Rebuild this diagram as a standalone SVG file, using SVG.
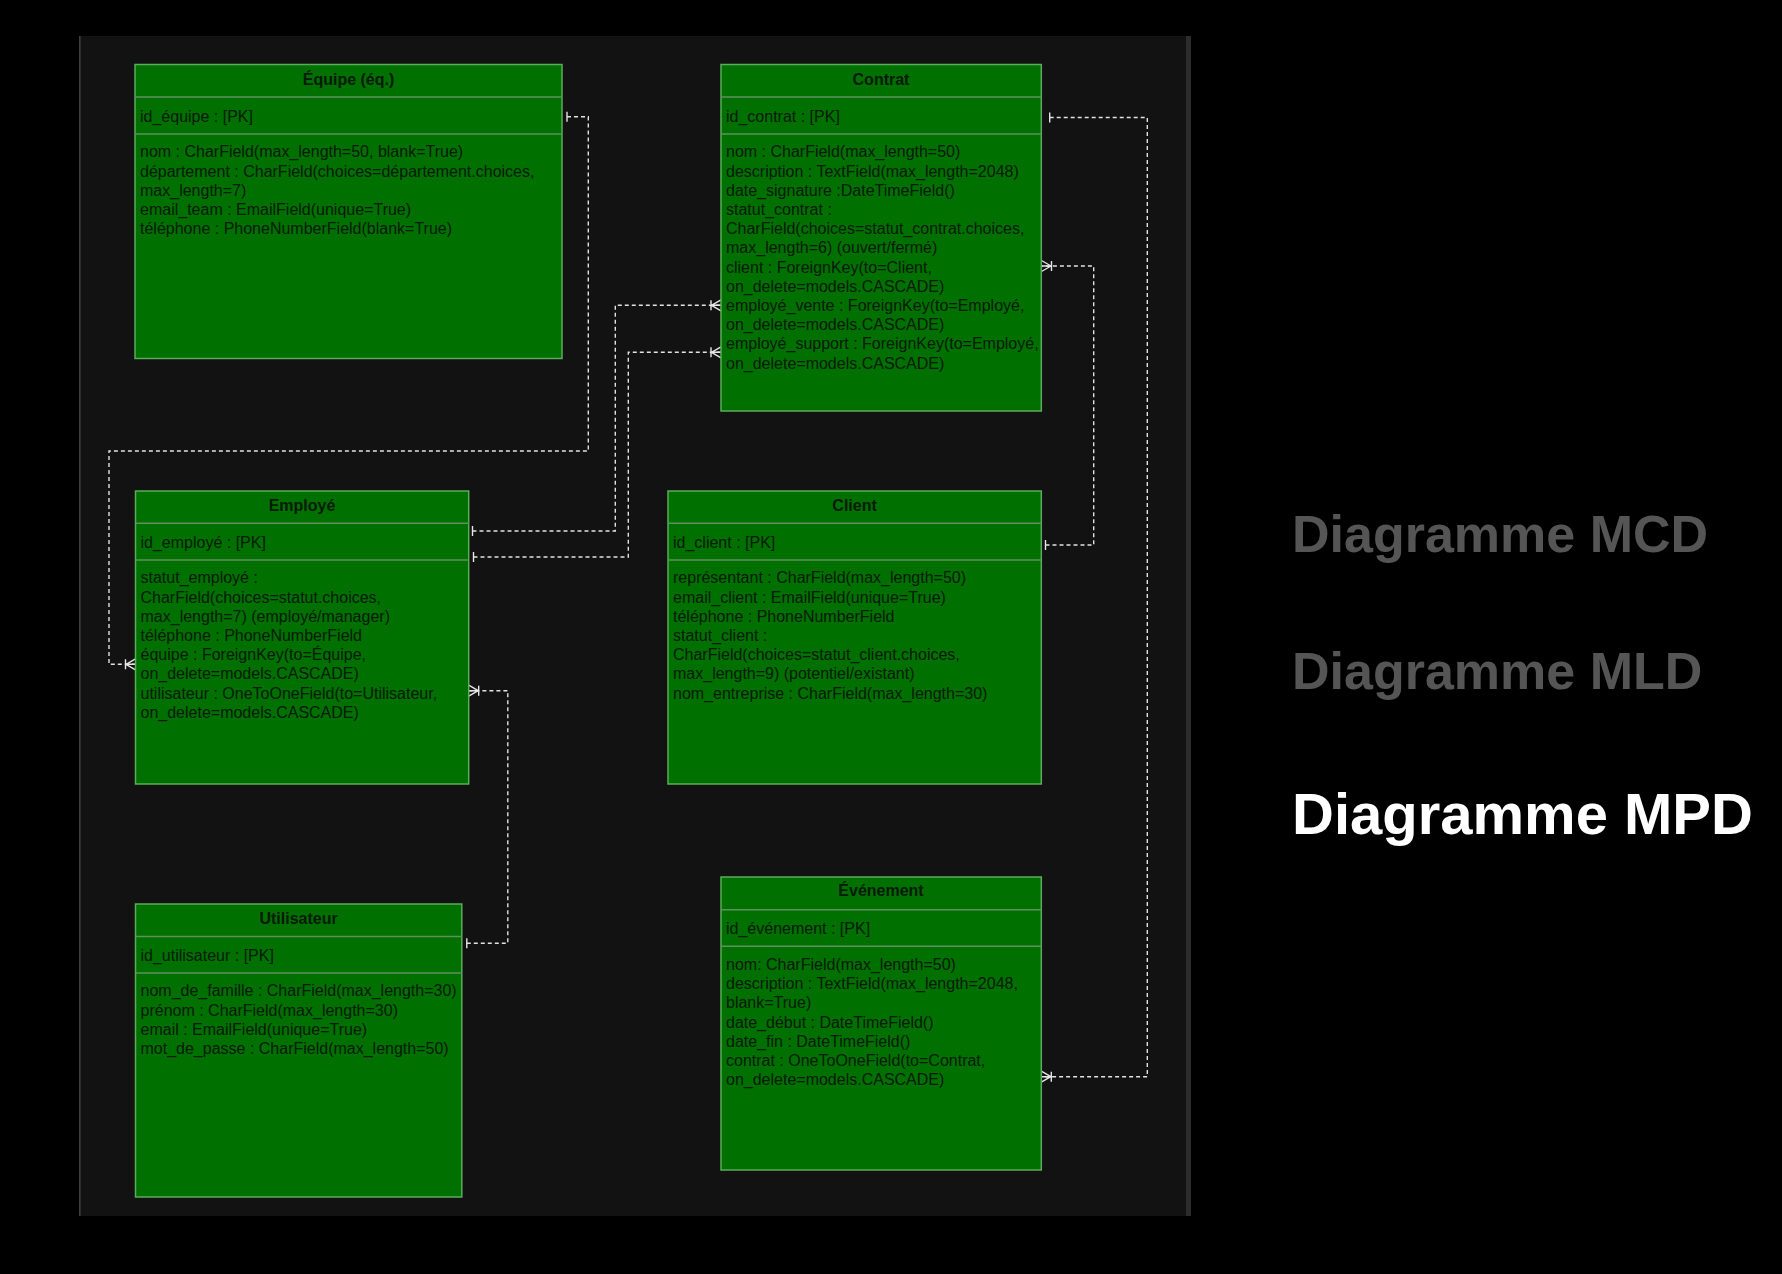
<svg xmlns="http://www.w3.org/2000/svg" width="1782" height="1274" viewBox="0 0 1782 1274">
<style>
.box{fill:#007000;stroke:#5aad5a;stroke-width:1.5}
.sep{stroke:#5f8f5f;stroke-width:1.5}
.t{font-family:"Liberation Sans",Arial,Helvetica,sans-serif;font-size:16px;fill:#081a08}
.h{font-weight:bold;text-anchor:middle}
.conn{fill:none;stroke:#e2e2e2;stroke-width:1.4;stroke-dasharray:4 3}
.mk{fill:none;stroke:#e6e6e6;stroke-width:1.4}
.side{font-family:"Liberation Sans",Arial,Helvetica,sans-serif;font-weight:bold}
</style>
<defs>
<marker id="one" viewBox="-6 -7 12 14" refX="0" refY="0" markerWidth="12" markerHeight="14" markerUnits="userSpaceOnUse" orient="auto">
<path class="mk" d="M0,-5 V5"/>
</marker>
<marker id="many" viewBox="-13 -8 15 16" refX="0" refY="0" markerWidth="15" markerHeight="16" markerUnits="userSpaceOnUse" orient="auto">
<path class="mk" d="M-10,-5 V5 M-9.5,0 L0,-5.5 M-9.5,0 L0,5.5 M-9.5,0 H0"/>
</marker>
</defs>
<rect width="1782" height="1274" fill="#000"/>
<rect x="79" y="36" width="1112" height="1180" fill="#121212"/>
<rect x="79" y="36" width="1.6" height="1180" fill="#3e3e3e"/>
<rect x="1186" y="36" width="5" height="1180" fill="#2c2c2c"/>

<g id="connectors">
<path class="conn" d="M567 116.7 H588.3 V451 H109 V664.3 H135.5" marker-start="url(#one)" marker-end="url(#many)"/>
<path class="conn" d="M1049.7 117.5 H1147.3 V1076.7 H1041.3" marker-start="url(#one)" marker-end="url(#many)"/>
<path class="conn" d="M1045.5 545 H1093.7 V266 H1041.5" marker-start="url(#one)" marker-end="url(#many)"/>
<path class="conn" d="M472.5 531 H615.3 V305.3 H721" marker-start="url(#one)" marker-end="url(#many)"/>
<path class="conn" d="M473.5 557 H628.3 V352.3 H721" marker-start="url(#one)" marker-end="url(#many)"/>
<path class="conn" d="M466.8 943.3 H507.8 V690.7 H468.7" marker-start="url(#one)" marker-end="url(#many)"/>
</g>

<g id="equipe">
<rect class="box" x="135" y="64.5" width="427" height="294"/>
<line class="sep" x1="135" y1="97" x2="562" y2="97"/>
<line class="sep" x1="135" y1="134" x2="562" y2="134"/>
<text class="t h" x="348.5" y="84.6">Équipe (éq.)</text>
<text class="t" x="140" y="121.6">id_équipe : [PK]</text>
<text class="t" x="140" y="157.3">nom : CharField(max_length=50, blank=True)<tspan x="140" dy="19.2">département : CharField(choices=département.choices,</tspan><tspan x="140" dy="19.2">max_length=7)</tspan><tspan x="140" dy="19.2">email_team : EmailField(unique=True)</tspan><tspan x="140" dy="19.2">téléphone : PhoneNumberField(blank=True)</tspan></text>
</g>

<g id="contrat">
<rect class="box" x="721" y="64.5" width="320.3" height="346.5"/>
<line class="sep" x1="721" y1="97" x2="1041.3" y2="97"/>
<line class="sep" x1="721" y1="134" x2="1041.3" y2="134"/>
<text class="t h" x="881" y="84.6">Contrat</text>
<text class="t" x="726" y="121.6">id_contrat : [PK]</text>
<text class="t" x="726" y="157.3">nom : CharField(max_length=50)<tspan x="726" dy="19.2">description : TextField(max_length=2048)</tspan><tspan x="726" dy="19.2">date_signature :DateTimeField()</tspan><tspan x="726" dy="19.2">statut_contrat :</tspan><tspan x="726" dy="19.2">CharField(choices=statut_contrat.choices,</tspan><tspan x="726" dy="19.2">max_length=6) (ouvert/fermé)</tspan><tspan x="726" dy="19.2">client : ForeignKey(to=Client,</tspan><tspan x="726" dy="19.2">on_delete=models.CASCADE)</tspan><tspan x="726" dy="19.2">employé_vente : ForeignKey(to=Employé,</tspan><tspan x="726" dy="19.2">on_delete=models.CASCADE)</tspan><tspan x="726" dy="19.2">employé_support : ForeignKey(to=Employé,</tspan><tspan x="726" dy="19.2">on_delete=models.CASCADE)</tspan></text>
</g>

<g id="employe">
<rect class="box" x="135.5" y="491" width="333.2" height="293"/>
<line class="sep" x1="135.5" y1="523.3" x2="468.7" y2="523.3"/>
<line class="sep" x1="135.5" y1="560" x2="468.7" y2="560"/>
<text class="t h" x="302" y="510.6">Employé</text>
<text class="t" x="140.5" y="548">id_employé : [PK]</text>
<text class="t" x="140.5" y="583.3">statut_employé :<tspan x="140.5" dy="19.2">CharField(choices=statut.choices,</tspan><tspan x="140.5" dy="19.2">max_length=7) (employé/manager)</tspan><tspan x="140.5" dy="19.2">téléphone : PhoneNumberField</tspan><tspan x="140.5" dy="19.2">équipe : ForeignKey(to=Équipe,</tspan><tspan x="140.5" dy="19.2">on_delete=models.CASCADE)</tspan><tspan x="140.5" dy="19.2">utilisateur : OneToOneField(to=Utilisateur,</tspan><tspan x="140.5" dy="19.2">on_delete=models.CASCADE)</tspan></text>
</g>

<g id="client">
<rect class="box" x="668" y="491" width="373.3" height="293"/>
<line class="sep" x1="668" y1="523.3" x2="1041.3" y2="523.3"/>
<line class="sep" x1="668" y1="560" x2="1041.3" y2="560"/>
<text class="t h" x="854.6" y="510.6">Client</text>
<text class="t" x="673" y="548">id_client : [PK]</text>
<text class="t" x="673" y="583.3">représentant : CharField(max_length=50)<tspan x="673" dy="19.2">email_client : EmailField(unique=True)</tspan><tspan x="673" dy="19.2">téléphone : PhoneNumberField</tspan><tspan x="673" dy="19.2">statut_client :</tspan><tspan x="673" dy="19.2">CharField(choices=statut_client.choices,</tspan><tspan x="673" dy="19.2">max_length=9) (potentiel/existant)</tspan><tspan x="673" dy="19.2">nom_entreprise : CharField(max_length=30)</tspan></text>
</g>

<g id="utilisateur">
<rect class="box" x="135.5" y="904" width="326.3" height="293"/>
<line class="sep" x1="135.5" y1="936.5" x2="461.8" y2="936.5"/>
<line class="sep" x1="135.5" y1="973" x2="461.8" y2="973"/>
<text class="t h" x="298.6" y="924">Utilisateur</text>
<text class="t" x="140.5" y="960.6">id_utilisateur : [PK]</text>
<text class="t" x="140.5" y="996.3">nom_de_famille : CharField(max_length=30)<tspan x="140.5" dy="19.2">prénom : CharField(max_length=30)</tspan><tspan x="140.5" dy="19.2">email : EmailField(unique=True)</tspan><tspan x="140.5" dy="19.2">mot_de_passe : CharField(max_length=50)</tspan></text>
</g>

<g id="evenement">
<rect class="box" x="721" y="877" width="320.3" height="293"/>
<line class="sep" x1="721" y1="909.7" x2="1041.3" y2="909.7"/>
<line class="sep" x1="721" y1="946.3" x2="1041.3" y2="946.3"/>
<text class="t h" x="881" y="896.3">Événement</text>
<text class="t" x="726" y="934">id_événement : [PK]</text>
<text class="t" x="726" y="970">nom: CharField(max_length=50)<tspan x="726" dy="19.2">description : TextField(max_length=2048,</tspan><tspan x="726" dy="19.2">blank=True)</tspan><tspan x="726" dy="19.2">date_début : DateTimeField()</tspan><tspan x="726" dy="19.2">date_fin : DateTimeField()</tspan><tspan x="726" dy="19.2">contrat : OneToOneField(to=Contrat,</tspan><tspan x="726" dy="19.2">on_delete=models.CASCADE)</tspan></text>
</g>

<g id="legend">
<text class="side" x="1292" y="551.7" font-size="52" fill="#555555">Diagramme MCD</text>
<text class="side" x="1292" y="689.3" font-size="52" fill="#555555">Diagramme MLD</text>
<text class="side" x="1292" y="834" font-size="58" fill="#ffffff">Diagramme MPD</text>
</g>
</svg>
